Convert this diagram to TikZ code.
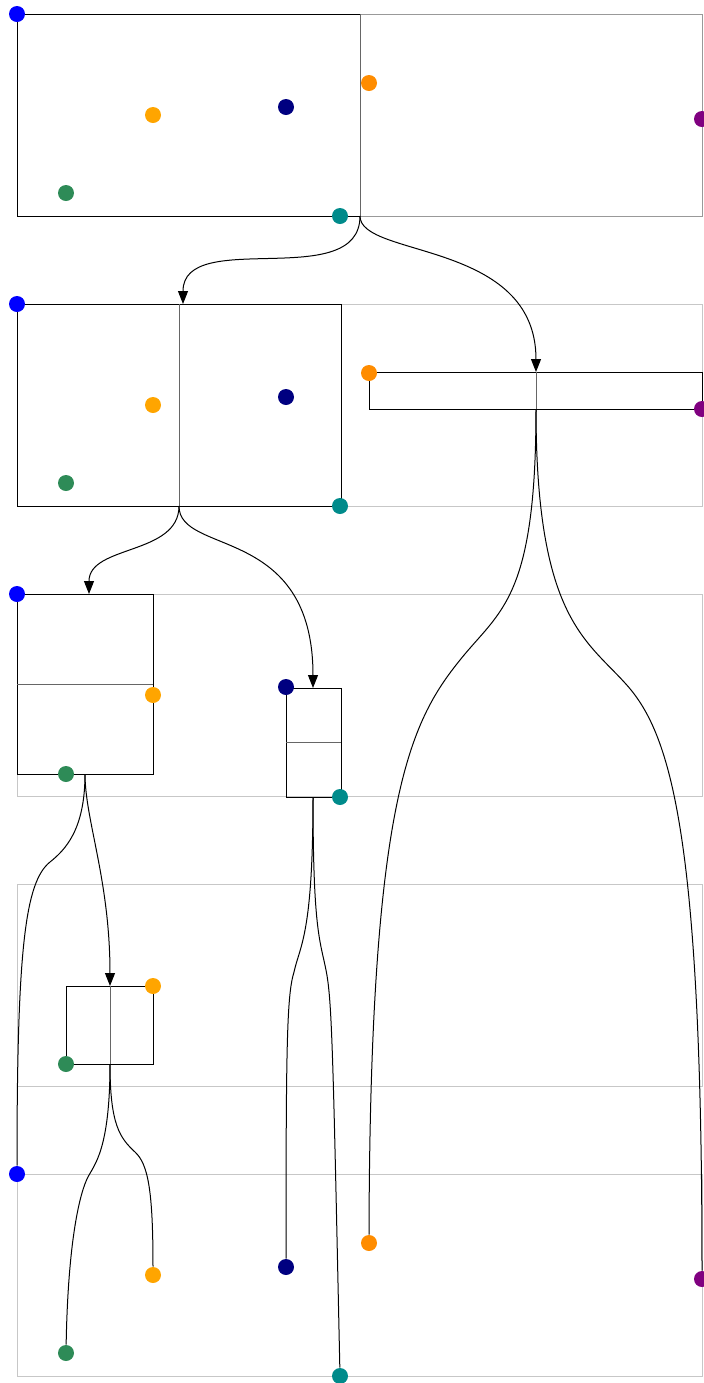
\documentclass[tikz,border=0pt]{standalone}
\usetikzlibrary{arrows.meta}
\definecolor{ptblue}{HTML}{0000FF}
\definecolor{ptorange}{HTML}{FFA500}
\definecolor{ptnavy}{HTML}{000080}
\definecolor{ptdorange}{HTML}{FF8C00}
\definecolor{ptpurple}{HTML}{800080}
\definecolor{ptgreen}{HTML}{2E8B57}
\definecolor{ptteal}{HTML}{008B8B}

\begin{document}
\begin{tikzpicture}[x=0.5pt,y=-0.5pt,line width=0.5pt,>={Triangle[length=6.5pt,width=5pt]}]
  \tikzstyle{panel}=[draw=black!22]
  \tikzstyle{cell}=[draw=black]
  \tikzstyle{split}=[draw=black!60]
  \tikzstyle{dot}=[circle,inner sep=0pt,minimum size=8pt]
  \useasboundingbox (0,0) rectangle (703,1383);

  % one panel per level of the tree
  \draw[panel,draw=black!40] (17,14) rectangle (702,216);
  \draw[panel] (17,304) rectangle (702,506);
  \draw[panel] (17,594) rectangle (702,796);
  \draw[panel] (17,884) rectangle (702,1086);
  \draw[panel] (17,1174) rectangle (702,1376);

  % cells and their splits
  \draw[cell] (360,14) -- (17,14) -- (17,216) -- (360,216);
  \draw[split] (360,14) -- (360,216);
  \draw[cell] (17,304) rectangle (341,506);
  \draw[split] (179,304) -- (179,506);
  \draw[cell] (369,372) rectangle (702,409);
  \draw[split] (536,372) -- (536,409);
  \draw[cell] (17,594) rectangle (153,774);
  \draw[split] (17,684) -- (153,684);
  \draw[cell] (286,688) rectangle (341,797);
  \draw[split] (286,742) -- (341,742);
  \draw[cell] (66,986) rectangle (153,1064);
  \draw[split] (110,986) -- (110,1064);

  % points, level 1
  \node[dot,fill=ptblue] (blue1) at (17,14) {};
  \node[dot,fill=ptorange] (orange1) at (153,115) {};
  \node[dot,fill=ptnavy] (navy1) at (286,107) {};
  \node[dot,fill=ptdorange] (dorange1) at (369,83) {};
  \node[dot,fill=ptpurple] (purple1) at (702,119) {};
  \node[dot,fill=ptgreen] (green1) at (66,193) {};
  \node[dot,fill=ptteal] (teal1) at (340,216) {};
  % level 2
  \node[dot,fill=ptblue] (blue2) at (17,304) {};
  \node[dot,fill=ptorange] (orange2) at (153,405) {};
  \node[dot,fill=ptnavy] (navy2) at (286,397) {};
  \node[dot,fill=ptdorange] (dorange2) at (369,373) {};
  \node[dot,fill=ptpurple] (purple2) at (702,409) {};
  \node[dot,fill=ptgreen] (green2) at (66,483) {};
  \node[dot,fill=ptteal] (teal2) at (340,506) {};
  % level 3
  \node[dot,fill=ptblue] (blue3) at (17,594) {};
  \node[dot,fill=ptorange] (orange3) at (153,695) {};
  \node[dot,fill=ptnavy] (navy3) at (286,687) {};
  \node[dot,fill=ptgreen] (green3) at (66,774) {};
  \node[dot,fill=ptteal] (teal3) at (340,797) {};
  % level 4
  \node[dot,fill=ptorange] (orange4) at (153,986) {};
  \node[dot,fill=ptgreen] (green4) at (66,1064) {};
  % leaves
  \node[dot,fill=ptblue] (blue5) at (17,1174) {};
  \node[dot,fill=ptorange] (orange5) at (153,1275) {};
  \node[dot,fill=ptnavy] (navy5) at (286,1267) {};
  \node[dot,fill=ptdorange] (dorange5) at (369,1243) {};
  \node[dot,fill=ptpurple] (purple5) at (702,1279) {};
  \node[dot,fill=ptgreen] (green5) at (66,1353) {};
  \node[dot,fill=ptteal] (teal5) at (340,1376) {};

  % where the edges leave and enter
  \coordinate (r) at (360,216);
  \coordinate (l) at (183,304);
  \coordinate (lb) at (179,506);
  \coordinate (rt) at (536,372);
  \coordinate (rb) at (536,409);
  \coordinate (ll) at (89,594);
  \coordinate (llb) at (85,774);
  \coordinate (lr) at (313,688);
  \coordinate (lrb) at (313,797);
  \coordinate (llr) at (110,986);
  \coordinate (llrb) at (110,1064);
  \coordinate (w5) at (460,660);
  \coordinate (w6) at (625,683);
  \coordinate (w7) at (50,862);
  \coordinate (w9) at (294,972);
  \coordinate (w10) at (326,970);
  \coordinate (w11) at (88,1177);
  \coordinate (w12) at (135,1152);

  \draw[->] (r) to[out=-90,in=90] (l);
  \draw[->] (r) to[out=-90,in=90,out distance=21pt,in distance=66pt] (rt);
  \draw[->] (lb) to[out=-90,in=90] (ll);
  \draw[->] (lb) to[out=-90,in=90,out distance=25pt,in distance=82pt] (lr);
  \draw[->] (llb) to[out=-90,in=90,out distance=23pt,in distance=53pt] (llr);
  \draw (rb) .. controls (536,600) and (500,610) .. (w5) .. controls (410,722) and (370,800) .. (dorange5);
  \draw (rb) .. controls (536,615) and (585,639) .. (w6) .. controls (670,732) and (702,830) .. (purple5);
  \draw (llb) .. controls (85,830) and (65,850) .. (w7) .. controls (25,882) and (17,950) .. (blue5);
  \draw (lrb) .. controls (313,935) and (300,945) .. (w9) .. controls (287,995) and (286,1040) .. (navy5);
  \draw (lrb) .. controls (313,930) and (320,940) .. (w10) .. controls (332,1000) and (333,1050) .. (teal5);
  \draw (llrb) .. controls (110,1150) and (94,1165) .. (w11) .. controls (80,1192) and (68,1240) .. (green5);
  \draw (llrb) .. controls (110,1125) and (120,1138) .. (w12) .. controls (148,1164) and (153,1190) .. (orange5);
\end{tikzpicture}
\end{document}
